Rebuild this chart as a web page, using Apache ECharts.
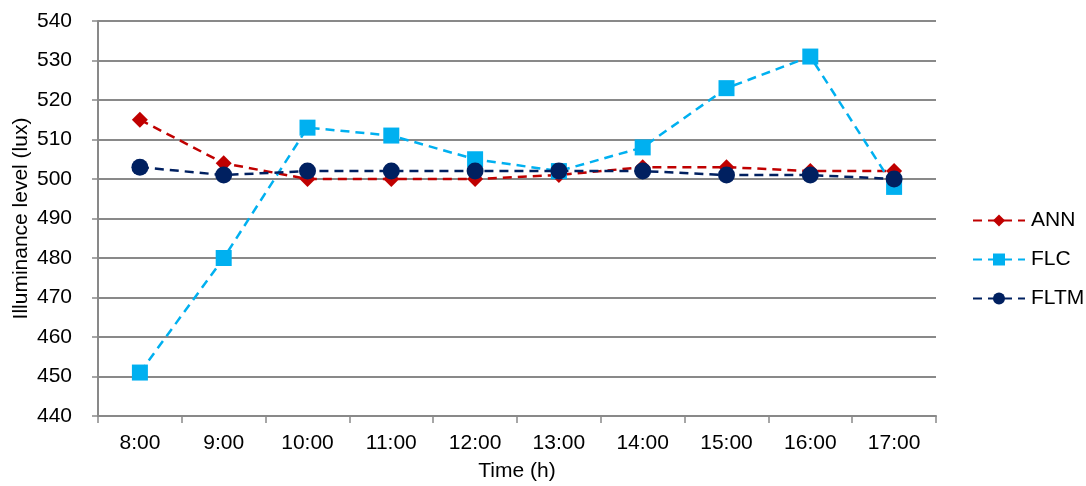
<!DOCTYPE html>
<html><head><meta charset="utf-8">
<script src="https://cdn.jsdelivr.net/npm/echarts@6/dist/echarts.min.js"></script>
<style>html,body{margin:0;padding:0;background:#fff}#c{width:1086px;height:486px}</style>
</head><body><div id="c"></div>
<script>
const categories = ['8:00','9:00','10:00','11:00','12:00','13:00','14:00','15:00','16:00','17:00'];
const ann  = [515, 504, 500, 500, 500, 501, 503, 503, 502, 502];
const flc  = [451, 480, 513, 511, 505, 502, 508, 523, 531, 498];
const fltm = [503, 501, 502, 502, 502, 502, 502, 501, 501, 500];
const yTicks = {min: 440, max: 540, interval: 10};

const font = 'Liberation Sans, Arial, sans-serif';
const fs = 21;
const chart = echarts.init(document.getElementById('c'));
function ser(name, data, color, symbol, size) {
  return {
    name, type: 'line', data, symbol, symbolSize: size,
    lineStyle: {color, width: 2.5, type: [9, 6]},
    itemStyle: {color},
    animation: false
  };
}
chart.setOption({
  animation: false,
  grid: {left: 98, right: 150, top: 21, bottom: 70, containLabel: false, outerBoundsMode: 'none'},
  legend: {
    orient: 'vertical', left: 967, top: 205, itemGap: 18, itemWidth: 52, itemHeight: 15,
    textStyle: {fontFamily: font, fontSize: fs, color: '#000', padding: [0, 0, 0, 1]},
    data: ['ANN', 'FLC', 'FLTM']
  },
  xAxis: {
    type: 'category', data: categories, boundaryGap: true,
    name: 'Time (h)', nameLocation: 'middle', nameGap: 45, nameMoveOverlap: false,
    nameTextStyle: {fontFamily: font, fontSize: fs, color: '#000'},
    axisLine: {lineStyle: {color: '#898989', width: 2}},
    axisTick: {show: true, length: 7, lineStyle: {color: '#898989', width: 1.5}},
    axisLabel: {fontFamily: font, fontSize: fs, color: '#000', margin: 17}
  },
  yAxis: {
    type: 'value', min: yTicks.min, max: yTicks.max, interval: yTicks.interval,
    name: 'Illuminance level (lux)', nameLocation: 'middle', nameGap: 66, nameMoveOverlap: false,
    nameTextStyle: {fontFamily: font, fontSize: fs, color: '#000'},
    axisLine: {show: true, lineStyle: {color: '#898989', width: 2}},
    axisTick: {show: true, length: 6, lineStyle: {color: '#898989', width: 1.5}},
    axisLabel: {fontFamily: font, fontSize: fs, color: '#000', margin: 26},
    splitLine: {lineStyle: {color: '#898989', width: 2}}
  },
  series: [
    ser('ANN', ann, '#C00000', 'diamond', 16),
    ser('FLC', flc, '#00B0F0', 'rect', 16),
    ser('FLTM', fltm, '#002060', 'circle', 17)
  ]
});
</script></body></html>
